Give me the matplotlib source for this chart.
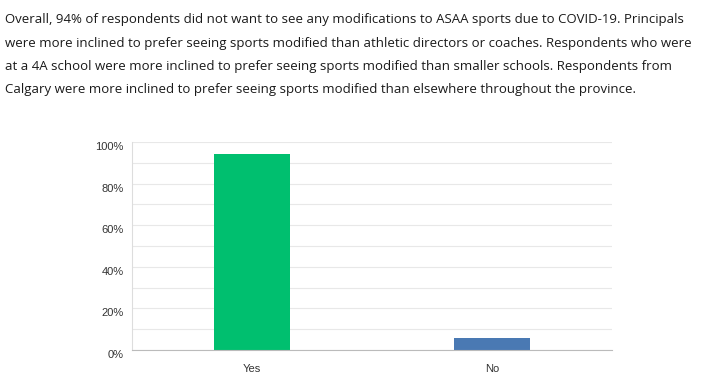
import matplotlib.pyplot as plt
import matplotlib.transforms as mtransforms
from matplotlib.ticker import MultipleLocator

intro_text = (
    "Overall, 94% of respondents did not want to see any modifications to ASAA sports due to COVID-19. Principals\n"
    "were more inclined to prefer seeing sports modified than athletic directors or coaches. Respondents who were\n"
    "at a 4A school were more inclined to prefer seeing sports modified than smaller schools. Respondents from\n"
    "Calgary were more inclined to prefer seeing sports modified than elsewhere throughout the province."
)
answers = ["Yes", "No"]
percent = [94, 6]
bar_colors = ["#00BF6F", "#4A79B3"]
y_ticks = [0, 20, 40, 60, 80, 100]

W, H = 703, 376
fig = plt.figure(figsize=(W / 100, H / 100), dpi=100)

# paragraph above the chart
fig.text(5 / W, 1 - 13 / H, intro_text, ha="left", va="top",
         family="Open Sans", fontsize=9.5, color="#1A1A1A", linespacing=2.05)

ax = fig.add_axes([132 / W, 26 / H, 480 / W, 208 / H])
x = range(len(answers))
ax.bar(x, percent, width=0.32, color=bar_colors, zorder=3)

ax.set_xlim(-0.5, 1.5)
ax.set_ylim(0, 100)
ax.set_yticks(y_ticks)
ax.set_yticklabels([f"{v}%" for v in y_ticks])
ax.yaxis.set_minor_locator(MultipleLocator(10))
ax.set_xticks(list(x))
ax.set_xticklabels(answers)

ax.grid(axis="y", which="both", color="#E8E8E8", linewidth=0.8, zorder=0)
ax.tick_params(axis="both", which="both", length=0, labelsize=8, labelcolor="#333333")
ax.tick_params(axis="y", pad=6)
ax.tick_params(axis="x", pad=10)
for lbl in ax.get_yticklabels() + ax.get_xticklabels():
    lbl.set_family("Liberation Sans")

# y labels sit a little below their gridlines in the original
offset = mtransforms.ScaledTranslation(0, -4 / 100, fig.dpi_scale_trans)
for lbl in ax.get_yticklabels():
    lbl.set_transform(lbl.get_transform() + offset)

for side in ["top", "right"]:
    ax.spines[side].set_visible(False)
ax.spines["left"].set_color("#DDDDDD")
ax.spines["bottom"].set_color("#BBBBBB")
ax.spines["bottom"].set_zorder(4)

fig.savefig("out.png", dpi=100)
